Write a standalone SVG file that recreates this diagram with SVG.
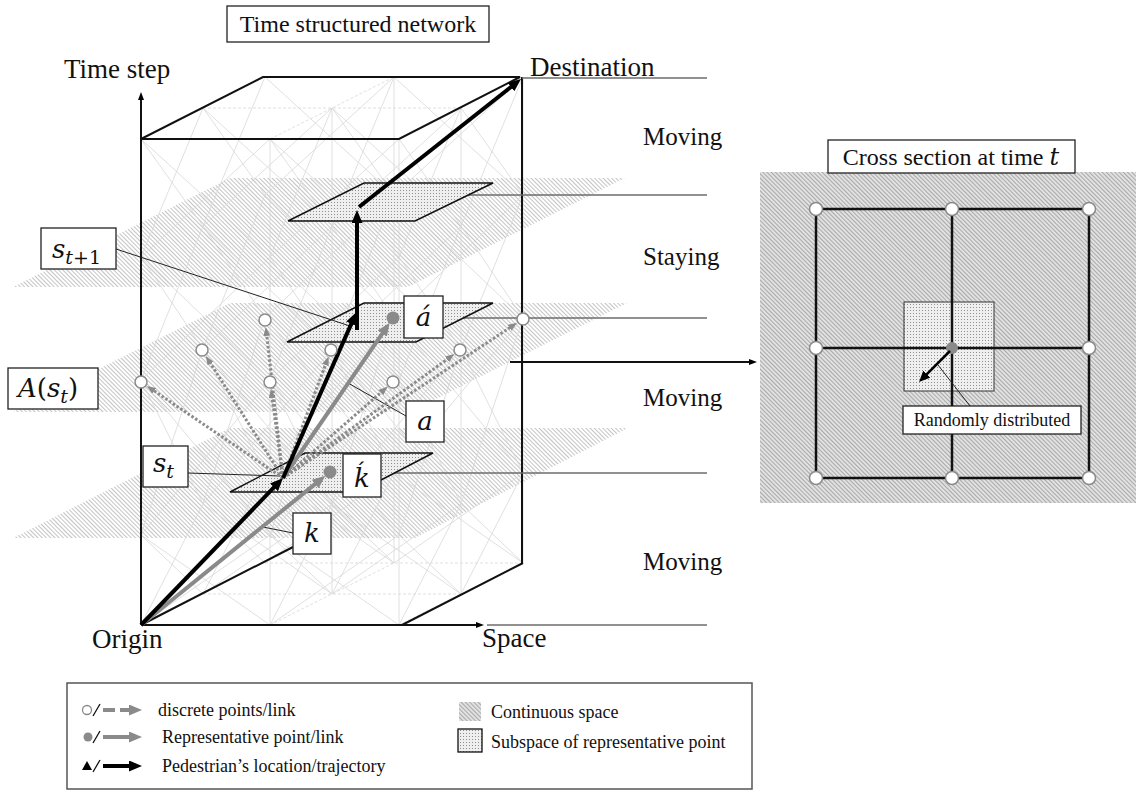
<svg xmlns="http://www.w3.org/2000/svg" width="1136" height="792" viewBox="0 0 1136 792">
<defs>
<pattern id="hatchBand" patternUnits="userSpaceOnUse" width="3" height="3" patternTransform="rotate(-45)">
<rect x="0" y="0" width="1" height="3" fill="#c4c4c4"/>
</pattern>
<pattern id="hatchCS" patternUnits="userSpaceOnUse" width="3" height="3" patternTransform="rotate(-45)">
<rect width="3" height="3" fill="#e4e4e4"/>
<rect x="0" y="0" width="1.1" height="3" fill="#a9a9a9"/>
</pattern>
<pattern id="dots" patternUnits="userSpaceOnUse" width="3" height="3">
<rect width="3" height="3" fill="#efefef"/>
<rect x="1" y="1" width="1" height="1" fill="#8e8e8e"/>
</pattern>
<marker id="ahB" markerUnits="userSpaceOnUse" markerWidth="14" markerHeight="11" refX="3" refY="5.5" orient="auto"><path d="M0,0 L13,5.5 L0,11 z" fill="#000"/></marker>
<marker id="ahG" markerUnits="userSpaceOnUse" markerWidth="14" markerHeight="11" refX="3" refY="5.5" orient="auto"><path d="M0,0 L13,5.5 L0,11 z" fill="#8a8a8a"/></marker>
<marker id="ahD" markerUnits="userSpaceOnUse" markerWidth="10" markerHeight="7" refX="2" refY="3.5" orient="auto"><path d="M0,0 L9,3.5 L0,7 z" fill="#8a8a8a"/></marker>
<marker id="ahT" markerUnits="userSpaceOnUse" markerWidth="9" markerHeight="6" refX="2" refY="3" orient="auto"><path d="M0,0 L8,3 L0,6 z" fill="#000"/></marker>
<marker id="ahS" markerUnits="userSpaceOnUse" markerWidth="12" markerHeight="10" refX="2" refY="5" orient="auto"><path d="M0,0 L11,5 L0,10 z" fill="#000"/></marker>
<g id="rowA"><path class="net" d="M141 257L270 139M270 257L141 139M270 257L399 139M399 257L270 139M270 257V139M399 257V139"/></g>
<g id="colA"><path class="net" d="M141 257L203 108M203 226L141 139M203 226L265 77M265 195L203 108"/></g>
<g id="rowB"><path class="net" d="M141 380L270 257M270 380L141 257M270 380L399 257M399 380L270 257M270 380V257M399 380V257"/></g>
<g id="colB"><path class="net" d="M141 380L203 226M203 349L141 257M203 349L265 195M265 318L203 226"/></g>
<g id="rowC"><path class="net" d="M141 535L270 380M270 535L141 380M270 535L399 380M399 535L270 380M270 535V380M399 535V380"/></g>
<g id="colC"><path class="net" d="M141 535L203 349M203 504L141 380M203 504L265 318M265 473L203 349"/></g>
<g id="rowD"><path class="net" d="M141 625L270 535M270 625L141 535M270 625L399 535M399 625L270 535M270 625V535M399 625V535"/></g>
<g id="colD"><path class="net" d="M141 625L203 504M203 594L141 535M203 594L265 473M265 563L203 504"/></g>
</defs>
<style>
.t{font-family:"Liberation Serif","Times New Roman",Times,"DejaVu Serif",serif;fill:#111}
.m{font-family:"DejaVu Serif",serif;font-style:italic;fill:#111}
.u{font-style:normal}
.box{fill:#fff;stroke:#222;stroke-width:1.3}
.lvl{stroke:#6e6e6e;stroke-width:1.3;fill:none}
.net{stroke:#d8d8d8;stroke-width:0.8;fill:none}
.edge{stroke:#111;stroke-width:2;fill:none}
.plane{fill:url(#dots);stroke:#111;stroke-width:1.5}
.band{fill:url(#hatchBand)}
.circ{fill:#fff;stroke:#8a8a8a;stroke-width:1.5}
.rep{fill:#8a8a8a}
.dl{stroke:#8a8a8a;stroke-width:3;stroke-dasharray:2.5 2;fill:none;marker-end:url(#ahD)}
.bk{stroke:#000;stroke-width:4;fill:none;marker-end:url(#ahB)}
.gr{stroke:#8a8a8a;stroke-width:4;fill:none;marker-end:url(#ahG)}
.ld{stroke:#222;stroke-width:1;fill:none}
.grid{stroke:#111;stroke-width:2.5;fill:none}
</style>
<rect width="1136" height="792" fill="#fff"/>

<g id="title">
<rect class="box" x="227" y="6" width="262" height="36"/>
<text class="t" x="358" y="32" font-size="24" text-anchor="middle">Time structured network</text>
</g>

<g id="bands">
<polygon class="band" points="230,178 625,178 408,287 13,287"/>
<polygon class="band" points="230,303 627,303 410,412 13,412"/>
<polygon class="band" points="230,428 628,428 415,538 13,538"/>
</g>

<g id="network">
<use href="#rowA"/><use href="#rowA" transform="translate(62,-31)"/><use href="#rowA" transform="translate(124,-62)"/>
<use href="#colA"/><use href="#colA" transform="translate(129,0)"/><use href="#colA" transform="translate(258,0)"/>
<use href="#rowB"/><use href="#rowB" transform="translate(62,-31)"/><use href="#rowB" transform="translate(124,-62)"/>
<use href="#colB"/><use href="#colB" transform="translate(129,0)"/><use href="#colB" transform="translate(258,0)"/>
<use href="#rowC"/><use href="#rowC" transform="translate(62,-31)"/><use href="#rowC" transform="translate(124,-62)"/>
<use href="#colC"/><use href="#colC" transform="translate(129,0)"/><use href="#colC" transform="translate(258,0)"/>
<use href="#rowD"/><use href="#rowD" transform="translate(62,-31)"/><use href="#rowD" transform="translate(124,-62)"/>
<use href="#colD"/><use href="#colD" transform="translate(129,0)"/><use href="#colD" transform="translate(258,0)"/>
<path class="net" stroke-dasharray="3 2" d="M203 108H461M270 139L394 77M203 594H461M265 563H523M270 625L394 563M399 625L461 594"/>
</g>

<g id="prism">
<polygon class="edge" points="141,139 399,139 520,77 263,77"/>
<path class="edge" d="M522 77V563M402 625L523 563M141 625L293 547"/>
<line x1="141" y1="625" x2="141" y2="98" stroke="#111" stroke-width="2" marker-end="url(#ahT)"/>
<line x1="141" y1="625" x2="478" y2="625" stroke="#111" stroke-width="2" marker-end="url(#ahT)"/>
</g>

<g id="levels">
<path class="lvl" d="M522 78H707M380 195H707M393 318H707M330 473H707M487 625H707"/>
<text class="t" x="530" y="76" font-size="27">Destination</text>
<text class="t" x="643" y="145" font-size="25">Moving</text>
<text class="t" x="643" y="265" font-size="25">Staying</text>
<text class="t" x="643" y="406" font-size="25">Moving</text>
<text class="t" x="643" y="570" font-size="25">Moving</text>
<text class="t" x="64" y="78" font-size="27">Time step</text>
<text class="t" x="92" y="648" font-size="27">Origin</text>
<text class="t" x="482" y="647" font-size="27">Space</text>
</g>

<g id="subspaces">
<polygon class="plane" points="288,221 415,221 493,183 364,183"/>
<polygon class="plane" points="287,342 416,342 493,303 364,303"/>
<polygon class="plane" points="230,492 358,492 433,453 305,453"/>
</g>

<g id="connectors">
<path class="ld" d="M116 249L350 326M188 473L280 476M406 416L348 383M293 533L263 527"/>
<line class="dl" x1="283" y1="478" x2="152.6" y2="389.8"/>
<line class="dl" x1="283" y1="478" x2="209.5" y2="361.8"/>
<line class="dl" x1="283" y1="478" x2="266.6" y2="333.9"/>
<line class="dl" x1="283" y1="478" x2="271.9" y2="395.9"/>
<line class="dl" x1="283" y1="478" x2="326.1" y2="363.1"/>
<line class="dl" x1="283" y1="478" x2="382.5" y2="391.2"/>
<line class="dl" x1="283" y1="478" x2="448.7" y2="358.2"/>
<line class="dl" x1="283" y1="478" x2="511.3" y2="326.7"/>
<line class="gr" x1="141" y1="625" x2="317.5" y2="482.1"/>
<line class="gr" x1="283" y1="478" x2="384" y2="331.1"/>
<line class="bk" x1="141" y1="625" x2="276.1" y2="485.2"/>
<line class="bk" x1="283" y1="478" x2="352.5" y2="321.1"/>
<line class="bk" x1="357" y1="330" x2="357" y2="220"/>
<line class="bk" x1="359" y1="207" x2="513.2" y2="85.2"/>
<line x1="510" y1="362" x2="751" y2="362" stroke="#111" stroke-width="1.8" marker-end="url(#ahT)"/>
</g>

<g id="points">
<circle class="circ" cx="141" cy="382" r="6"/>
<circle class="circ" cx="202" cy="350" r="6"/>
<circle class="circ" cx="265" cy="320" r="6"/>
<circle class="circ" cx="270" cy="382" r="6"/>
<circle class="circ" cx="331" cy="350" r="6"/>
<circle class="circ" cx="393" cy="382" r="6"/>
<circle class="circ" cx="460" cy="350" r="6"/>
<circle class="circ" cx="523" cy="319" r="6"/>
<circle class="rep" cx="393" cy="318" r="6.5"/>
<circle class="rep" cx="330" cy="472" r="6.5"/>
</g>

<g id="label-st1">
<rect class="box" x="41" y="228" width="75" height="41"/>
<text class="m" x="52" y="258" font-size="26">s<tspan font-size="19" dy="6">t<tspan class="u">+1</tspan></tspan></text>
</g>
<g id="label-Ast">
<rect class="box" x="8" y="368" width="90" height="41"/>
<text class="m" x="18" y="397" font-size="26">A<tspan class="u">(</tspan>s<tspan font-size="19" dy="6">t</tspan><tspan class="u" dy="-6">)</tspan></text>
</g>
<g id="label-st">
<rect class="box" x="143" y="446" width="45" height="41"/>
<text class="m" x="153" y="472" font-size="26">s<tspan font-size="19" dy="6">t</tspan></text>
</g>
<g id="label-a2">
<rect class="box" x="404" y="296" width="39" height="42"/>
<text class="m" x="423.5" y="326" font-size="26" text-anchor="middle">á</text>
</g>
<g id="label-a">
<rect class="box" x="406" y="401" width="38" height="41"/>
<text class="m" x="425" y="430" font-size="26" text-anchor="middle">a</text>
</g>
<g id="label-k2">
<rect class="box" x="343" y="454" width="38" height="43"/>
<text class="m" x="362" y="487" font-size="26" text-anchor="middle">ḱ</text>
</g>
<g id="label-k">
<rect class="box" x="293" y="513" width="38" height="41"/>
<text class="m" x="312" y="542" font-size="26" text-anchor="middle">k</text>
</g>

<g id="cross-section">
<rect x="760" y="172" width="376" height="331" fill="url(#hatchCS)"/>
<rect class="box" x="828" y="140" width="247" height="33"/>
<text class="t" x="951" y="165" font-size="24" text-anchor="middle">Cross section at time <tspan class="m">t</tspan></text>
<rect x="904" y="302" width="90" height="89" fill="url(#dots)" stroke="#333" stroke-width="1"/>
<rect class="grid" x="816" y="209" width="273" height="269"/>
<path class="grid" d="M952 209V478M816 348H1089"/>
<circle class="circ" cx="816" cy="209" r="6.5"/>
<circle class="circ" cx="952" cy="209" r="6.5"/>
<circle class="circ" cx="1089" cy="209" r="6.5"/>
<circle class="circ" cx="816" cy="348" r="6.5"/>
<circle class="circ" cx="1089" cy="348" r="6.5"/>
<circle class="circ" cx="816" cy="478" r="6.5"/>
<circle class="circ" cx="952" cy="478" r="6.5"/>
<circle class="circ" cx="1089" cy="478" r="6.5"/>
<circle class="rep" cx="952" cy="348" r="6"/>
<line x1="950" y1="351" x2="925.4" y2="375.6" stroke="#000" stroke-width="2.5" marker-end="url(#ahS)"/>
<path class="ld" d="M938 365L970 406"/>
<rect class="box" x="903" y="406" width="178" height="28"/>
<text class="t" x="992" y="426" font-size="18" text-anchor="middle">Randomly distributed</text>
</g>

<g id="legend">
<rect x="67" y="683" width="685" height="106" fill="#fff" stroke="#555" stroke-width="1.5"/>
<circle cx="87" cy="710" r="4.5" fill="#fff" stroke="#8a8a8a" stroke-width="1.3"/>
<line x1="93" y1="716" x2="100" y2="704" stroke="#111" stroke-width="1.3"/>
<line x1="103" y1="710" x2="132" y2="710" stroke="#8a8a8a" stroke-width="4" stroke-dasharray="12 5" marker-end="url(#ahG)"/>
<text class="t" x="158" y="716" font-size="18">discrete points/link</text>
<circle cx="88" cy="737" r="4.5" fill="#8a8a8a"/>
<line x1="93" y1="743" x2="100" y2="731" stroke="#111" stroke-width="1.3"/>
<line x1="103" y1="737" x2="132" y2="737" stroke="#8a8a8a" stroke-width="4" marker-end="url(#ahG)"/>
<text class="t" x="162" y="743" font-size="18">Representative point/link</text>
<polygon points="82,770 87,761 92,770" fill="#000"/>
<line x1="93" y1="772" x2="100" y2="760" stroke="#111" stroke-width="1.3"/>
<line x1="103" y1="766" x2="132" y2="766" stroke="#000" stroke-width="4" marker-end="url(#ahB)"/>
<text class="t" x="162" y="772" font-size="18">Pedestrian’s location/trajectory</text>
<rect x="459" y="702" width="22" height="19" fill="url(#hatchCS)"/>
<text class="t" x="491" y="718" font-size="18">Continuous space</text>
<rect x="458" y="729" width="24" height="23" fill="url(#dots)" stroke="#111" stroke-width="1.3"/>
<text class="t" x="491" y="748" font-size="18">Subspace of representative point</text>
</g>
</svg>
